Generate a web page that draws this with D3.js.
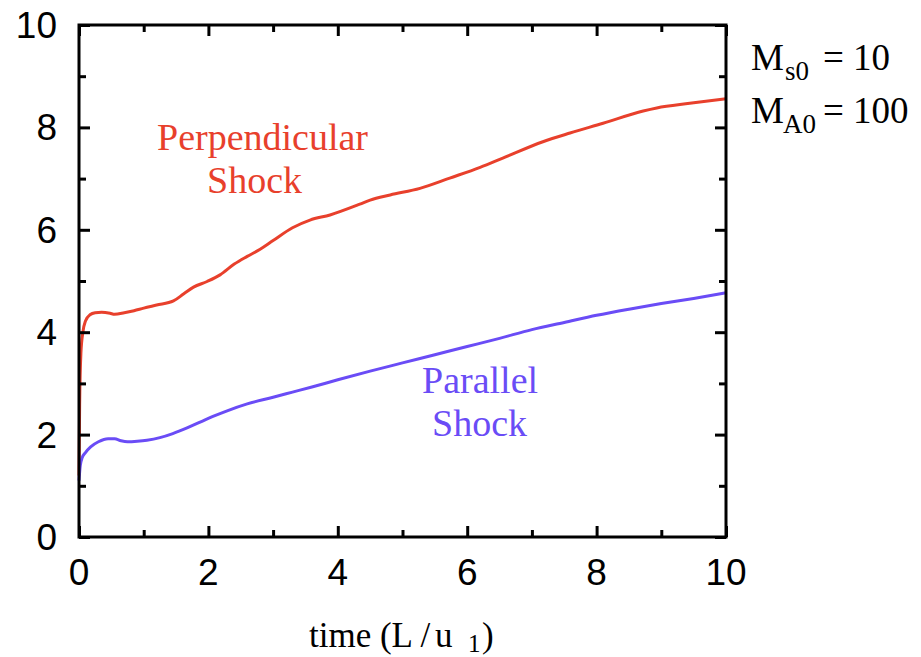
<!DOCTYPE html>
<html>
<head>
<meta charset="utf-8">
<script src="https://cdn.jsdelivr.net/npm/d3@7"></script>
<style>
  html, body { margin: 0; padding: 0; background: #fff; }
  svg { display: block; }
</style>
</head>
<body>
<svg id="chart" width="921" height="657"></svg>
<script>
// ---- data ----
const perpTime = [0, 0.01, 0.03, 0.06, 0.1, 0.17, 0.25, 0.35, 0.48, 0.55, 0.7, 0.85, 1.0, 1.2, 1.46, 1.62, 1.77, 1.98, 2.18, 2.4, 2.6, 2.8, 3.0, 3.3, 3.57, 3.88, 4.34, 4.5, 4.81, 5.27, 5.73, 6.2, 6.55, 7.17, 7.59, 8.1, 8.72, 8.93, 9.44, 10];
const perpValue = [1.2, 2.6, 3.6, 4.0, 4.22, 4.34, 4.38, 4.39, 4.37, 4.35, 4.38, 4.42, 4.47, 4.53, 4.61, 4.75, 4.88, 4.99, 5.12, 5.33, 5.48, 5.62, 5.79, 6.04, 6.19, 6.29, 6.5, 6.58, 6.68, 6.81, 7.01, 7.22, 7.40, 7.72, 7.89, 8.08, 8.32, 8.38, 8.47, 8.56];
const paraTime = [0, 0.02, 0.05, 0.1, 0.18, 0.3, 0.45, 0.55, 0.65, 0.75, 0.9, 1.05, 1.25, 1.45, 1.67, 1.9, 2.1, 2.3, 2.6, 3.0, 3.3, 3.6, 4, 4.5, 5, 5.5, 6, 6.5, 7, 7.5, 8, 8.5, 9, 9.5, 10];
const paraValue = [1.1, 1.4, 1.55, 1.65, 1.76, 1.86, 1.92, 1.92, 1.88, 1.86, 1.87, 1.89, 1.94, 2.02, 2.13, 2.26, 2.37, 2.47, 2.6, 2.73, 2.83, 2.93, 3.07, 3.24, 3.40, 3.56, 3.72, 3.88, 4.05, 4.19, 4.33, 4.45, 4.56, 4.66, 4.77];
const majorTicks = [0, 2, 4, 6, 8, 10];
const minorTicks = [1, 3, 5, 7, 9];

// ---- layout ----
const svg = d3.select("#chart");
const x = d3.scaleLinear().domain([0, 10]).range([79, 726]);
const y = d3.scaleLinear().domain([0, 10]).range([537, 25]);
const RED = "#e8402c";
const BLUE = "#6a4cf6";
const sans = "'Liberation Sans', Arial, sans-serif";
const serif = "'Liberation Serif', 'Times New Roman', serif";

// curves
const line = d3.line().x(d => x(d[0])).y(d => y(d[1])).curve(d3.curveMonotoneX);
svg.append("path")
  .datum(perpTime.map((t, i) => [t, perpValue[i]]))
  .attr("d", line).attr("fill", "none").attr("stroke", RED)
  .attr("stroke-width", 3).attr("stroke-linejoin", "round");
svg.append("path")
  .datum(paraTime.map((t, i) => [t, paraValue[i]]))
  .attr("d", line).attr("fill", "none").attr("stroke", BLUE)
  .attr("stroke-width", 3).attr("stroke-linejoin", "round");

// axes (inward ticks, mirrored)
function styleAxis(g) {
  g.select(".domain").remove();
  g.selectAll("line").attr("stroke", "#000").attr("stroke-width", 3);
  g.selectAll("text").remove();
}
const majLen = 11, minLen = 7;
svg.append("g").attr("transform", `translate(0,${y(0)})`)
  .call(d3.axisTop(x).tickValues(majorTicks).tickSize(majLen)).call(styleAxis);
svg.append("g").attr("transform", `translate(0,${y(0)})`)
  .call(d3.axisTop(x).tickValues(minorTicks).tickSize(minLen)).call(styleAxis);
svg.append("g").attr("transform", `translate(0,${y(10)})`)
  .call(d3.axisBottom(x).tickValues(majorTicks).tickSize(majLen)).call(styleAxis);
svg.append("g").attr("transform", `translate(0,${y(10)})`)
  .call(d3.axisBottom(x).tickValues(minorTicks).tickSize(minLen)).call(styleAxis);
svg.append("g").attr("transform", `translate(${x(0)},0)`)
  .call(d3.axisRight(y).tickValues(majorTicks).tickSize(majLen)).call(styleAxis);
svg.append("g").attr("transform", `translate(${x(0)},0)`)
  .call(d3.axisRight(y).tickValues(minorTicks).tickSize(minLen)).call(styleAxis);
svg.append("g").attr("transform", `translate(${x(10)},0)`)
  .call(d3.axisLeft(y).tickValues(majorTicks).tickSize(majLen)).call(styleAxis);
svg.append("g").attr("transform", `translate(${x(10)},0)`)
  .call(d3.axisLeft(y).tickValues(minorTicks).tickSize(minLen)).call(styleAxis);

// frame
svg.append("rect")
  .attr("x", x(0)).attr("y", y(10))
  .attr("width", x(10) - x(0)).attr("height", y(0) - y(10))
  .attr("fill", "none").attr("stroke", "#000").attr("stroke-width", 3);

// tick labels
svg.append("g").selectAll("text").data(majorTicks).join("text")
  .attr("x", 57).attr("y", d => y(d) + 13)
  .attr("text-anchor", "end").attr("font-family", sans).attr("font-size", 37)
  .text(d => d);
svg.append("g").selectAll("text").data(majorTicks).join("text")
  .attr("x", d => x(d)).attr("y", 585)
  .attr("text-anchor", "middle").attr("font-family", sans).attr("font-size", 37)
  .text(d => d);

// axis title
const xt = svg.append("text").attr("y", 647)
  .attr("font-family", serif).attr("font-size", 35).attr("fill", "#000");
xt.append("tspan").attr("x", 309).text("time (L /");
xt.append("tspan").attr("x", 435).text("u");
xt.append("tspan").attr("x", 468).attr("dy", 5).attr("font-size", 25).text("1");
xt.append("tspan").attr("x", 482).attr("dy", -5).text(")");

// annotations
svg.append("text").attr("x", 157).attr("y", 150).attr("font-family", serif)
  .attr("font-size", 38).attr("fill", RED).text("Perpendicular");
svg.append("text").attr("x", 207).attr("y", 193).attr("font-family", serif)
  .attr("font-size", 38).attr("fill", RED).text("Shock");
svg.append("text").attr("x", 422).attr("y", 393).attr("font-family", serif)
  .attr("font-size", 38).attr("fill", BLUE).text("Parallel");
svg.append("text").attr("x", 432).attr("y", 436).attr("font-family", serif)
  .attr("font-size", 38).attr("fill", BLUE).text("Shock");

// Mach numbers
function mach(sub, rest, base, subX) {
  const g = svg.append("g").attr("font-family", serif).attr("fill", "#000");
  g.append("text").attr("x", 751).attr("y", base).attr("font-size", 37).text("M");
  g.append("text").attr("x", subX).attr("y", base + 10).attr("font-size", 27).text(sub);
  g.append("text").attr("x", 823).attr("y", base).attr("font-size", 37).text(rest);
}
mach("s0", "= 10", 70, 785);
mach("A0", "= 100", 123, 783);
</script>
</body>
</html>
